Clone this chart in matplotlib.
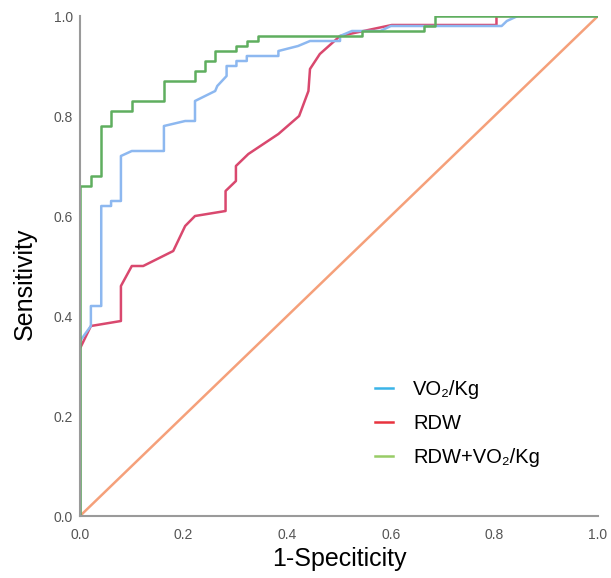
import matplotlib
matplotlib.use("Agg")
import matplotlib.pyplot as plt
from matplotlib.lines import Line2D

# ROC curve vertices
green_x = [0, 0, 0.021, 0.021, 0.041, 0.041, 0.06, 0.06, 0.10, 0.10, 0.162, 0.162,
           0.222, 0.222, 0.241, 0.241, 0.261, 0.261, 0.302, 0.302, 0.322, 0.322,
           0.344, 0.344, 0.544, 0.544, 0.664, 0.664, 0.685, 0.685, 1.0]
green_y = [0, 0.66, 0.66, 0.68, 0.68, 0.78, 0.78, 0.81, 0.81, 0.83, 0.83, 0.87,
           0.87, 0.89, 0.89, 0.91, 0.91, 0.93, 0.93, 0.94, 0.94, 0.95,
           0.95, 0.96, 0.96, 0.97, 0.97, 0.98, 0.98, 1.0, 1.0]

blue_x = [0, 0, 0.021, 0.021, 0.041, 0.041, 0.06, 0.06, 0.079, 0.079, 0.10, 0.162,
          0.162, 0.203, 0.222, 0.222, 0.261, 0.265, 0.283, 0.283, 0.302, 0.302,
          0.322, 0.322, 0.383, 0.383, 0.421, 0.444, 0.502, 0.502, 0.525, 0.58,
          0.60, 0.814, 0.824, 0.845, 1.0]
blue_y = [0, 0.35, 0.38, 0.42, 0.42, 0.62, 0.62, 0.63, 0.63, 0.72, 0.73, 0.73,
          0.78, 0.79, 0.79, 0.83, 0.85, 0.86, 0.88, 0.90, 0.90, 0.91,
          0.91, 0.92, 0.92, 0.93, 0.94, 0.95, 0.95, 0.96, 0.97, 0.97,
          0.98, 0.98, 0.99, 1.0, 1.0]

red_x = [0, 0, 0.021, 0.079, 0.079, 0.10, 0.122, 0.18, 0.203, 0.222, 0.281, 0.281,
         0.301, 0.301, 0.325, 0.383, 0.423, 0.441, 0.444, 0.463, 0.502, 0.602,
         0.804, 0.804, 1.0]
red_y = [0, 0.335, 0.38, 0.39, 0.46, 0.50, 0.50, 0.53, 0.58, 0.60, 0.61, 0.65,
         0.67, 0.70, 0.724, 0.764, 0.80, 0.85, 0.894, 0.924, 0.96, 0.982,
         0.982, 1.0, 1.0]

ref_x = [0, 1]
ref_y = [0, 1]

labels = ["VO\u2082/Kg", "RDW", "RDW+VO\u2082/Kg"]
ticks = [0.0, 0.2, 0.4, 0.6, 0.8, 1.0]
tick_labels = ["0.0", "0.2", "0.4", "0.6", "0.8", "1.0"]

plt.rcParams['font.family'] = ['Liberation Sans', 'DejaVu Sans']

W, H = 611, 578
fig = plt.figure(figsize=(W / 100, H / 100), dpi=100)
ax = fig.add_axes([80 / W, 1 - 516 / H, (598 - 80) / W, (516 - 16) / H])

ax.plot(ref_x, ref_y, color="#f5a07a", lw=1.8, solid_capstyle="butt")
ax.plot(red_x, red_y, color="#d9486e", lw=1.8)
ax.plot(blue_x, blue_y, color="#8db8f0", lw=1.8)
ax.plot(green_x, green_y, color="#5fae5f", lw=1.8)

ax.set_xlim(0, 1)
ax.set_ylim(0, 1)
ax.set_xticks(ticks)
ax.set_xticklabels(tick_labels)
ax.set_yticks(ticks)
ax.set_yticklabels(tick_labels)
ax.tick_params(length=0, labelsize=10, labelcolor="#555555")
ax.tick_params(axis="x", pad=8.5)
ax.tick_params(axis="y", pad=5)

for s in ["top", "right"]:
    ax.spines[s].set_visible(False)
for s in ["left", "bottom"]:
    ax.spines[s].set_color("#9a9a9a")
    ax.spines[s].set_linewidth(1.5)

ax.set_xlabel("1-Speciticity", fontsize=18, labelpad=4)
ax.set_ylabel("Sensitivity", fontsize=18, labelpad=12)
ax.yaxis.label.set_y(0.464)

handles = [Line2D([], [], color="#3ab4e8", lw=1.8),
           Line2D([], [], color="#e8333e", lw=1.8),
           Line2D([], [], color="#98cc66", lw=1.8)]
ax.legend(handles, labels, loc="upper left",
          bbox_to_anchor=(375 / W, 1 - 380 / H), bbox_transform=fig.transFigure,
          frameon=False, fontsize=14.5, handlelength=0.9, handletextpad=1.0,
          labelspacing=0.75, borderpad=0, borderaxespad=0)

fig.savefig("out.png", dpi=100)
